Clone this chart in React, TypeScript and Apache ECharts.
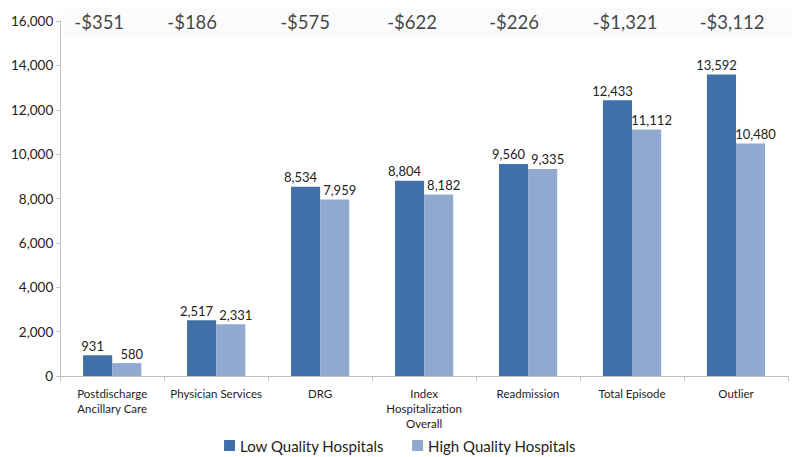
import React, { useEffect, useRef } from "react";
import * as echarts from "echarts";

const categories = [
  "Postdischarge\nAncillary Care",
  "Physician Services",
  "DRG",
  "Index\nHospitalization\nOverall",
  "Readmission",
  "Total Episode",
  "Outlier",
];
const lowQuality = [931, 2517, 8534, 8804, 9560, 12433, 13592];
const highQuality = [580, 2331, 7959, 8182, 9335, 11112, 10480];
const differences = ["-$351", "-$186", "-$575", "-$622", "-$226", "-$1,321", "-$3,112"];
const yTicks = { min: 0, max: 16000, interval: 2000 };

const FONT = "Lato, 'Open Sans', sans-serif";
// horizontal nudges of the difference labels (they sit in a hand-spaced text box)
const DIFF_SHIFT = [-13, -24, -15, -12, -14, -7, -4];

export default function App() {
  const ref = useRef<HTMLDivElement>(null);
  useEffect(() => {
    if (!ref.current) return;
    const chart = echarts.init(ref.current, undefined, { renderer: "svg" });
    const fmt = (p: any) => Number(p.value).toLocaleString("en-US");
    chart.setOption({
      animation: false,
      textStyle: { fontFamily: FONT },
      grid: { left: 45, right: 4, top: 13, bottom: 81, containLabel: false },
      graphic: [
        {
          type: "rect",
          left: 55,
          top: 0,
          z: -10,
          shape: { width: 735, height: 30 },
          style: { fill: "#fbfbfb" },
          silent: true,
        },
      ],
      legend: {
        top: 425,
        left: "center",
        itemWidth: 11,
        itemHeight: 11,
        itemGap: 28,
        icon: "rect",
        textStyle: { fontSize: 15, color: "#222", fontFamily: FONT },
        data: ["Low Quality Hospitals", "High Quality Hospitals"],
      },
      xAxis: {
        type: "category",
        data: categories,
        axisLine: { lineStyle: { color: "#bfbfbf" } },
        axisTick: { show: true, alignWithLabel: false, length: 5, lineStyle: { color: "#bfbfbf" } },
        axisLabel: { fontSize: 11.5, color: "#222", lineHeight: 15, margin: 10, interval: 0, fontFamily: FONT },
      },
      yAxis: {
        type: "value",
        min: yTicks.min,
        max: yTicks.max,
        interval: yTicks.interval,
        axisLine: { show: true, lineStyle: { color: "#bfbfbf" } },
        axisTick: { show: true, length: 4, lineStyle: { color: "#bfbfbf" } },
        splitLine: { show: false },
        axisLabel: {
          fontSize: 13.5,
          color: "#222",
          margin: 7,
          fontFamily: FONT,
          formatter: (v: number) => v.toLocaleString("en-US"),
        },
      },
      series: [
        {
          name: "Low Quality Hospitals",
          type: "bar",
          data: lowQuality,
          barGap: "0%",
          barCategoryGap: "44%",
          itemStyle: { color: "#416fa7" },
          label: {
            show: true,
            position: "top",
            fontSize: 13,
            color: "#222",
            distance: 3,
            offset: [-5, 0],
            fontFamily: FONT,
            formatter: fmt,
          },
        },
        {
          name: "High Quality Hospitals",
          type: "bar",
          data: highQuality,
          itemStyle: { color: "#8fa9d0" },
          label: {
            show: true,
            position: "top",
            fontSize: 13,
            color: "#222",
            distance: 3,
            offset: [5, 0],
            fontFamily: FONT,
            formatter: fmt,
          },
        },
        {
          name: "Difference",
          type: "scatter",
          data: categories.map((_, i) => ({
            value: [i, yTicks.max],
            label: { offset: [DIFF_SHIFT[i], 1] },
          })),
          symbolSize: 0,
          silent: true,
          label: {
            show: true,
            position: "inside",
            fontSize: 18.5,
            color: "#111",
            fontFamily: FONT,
            formatter: (p: any) => differences[p.dataIndex],
          },
        },
      ],
    });
    return () => chart.dispose();
  }, []);
  return <div ref={ref} style={{ width: 784, height: 449 }} />;
}
